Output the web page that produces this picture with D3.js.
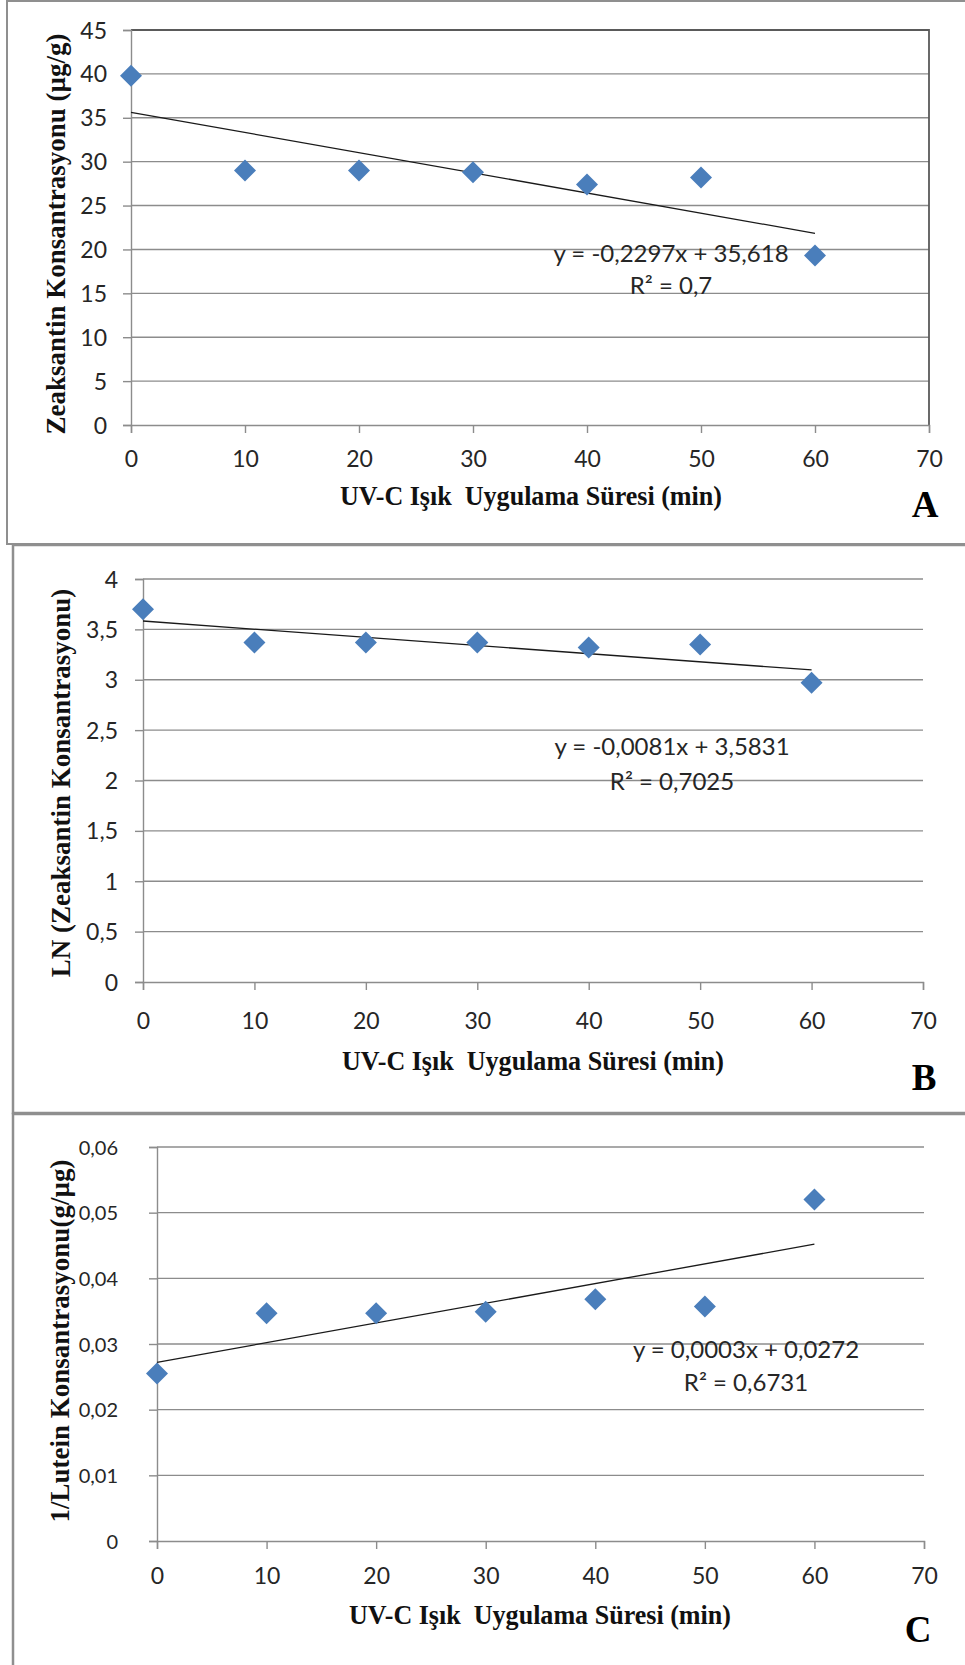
<!DOCTYPE html>
<html>
<head>
<meta charset="utf-8">
<script src="https://cdn.jsdelivr.net/npm/d3@7"></script>
<style>
  body { margin: 0; background: #fff; }
  .tick-label { font-family: Lato, "Open Sans", sans-serif; font-size: 23px; fill: #262626; }
  .eq { font-family: Lato, "Open Sans", sans-serif; font-size: 24px; fill: #262626; }
  .title { font-family: "Liberation Serif", "Times New Roman", serif; font-weight: bold; font-size: 27px; fill: #111; }
  .letter { font-family: "Liberation Serif", "Times New Roman", serif; font-weight: bold; font-size: 37px; fill: #000; }
</style>
</head>
<body>
<div id="container"></div>
<script>
// data
var minutes = [0, 10, 20, 30, 40, 50, 60];
var zeaxanthin = [39.8, 29.0, 29.0, 28.8, 27.4, 28.2, 19.3];
var lnZeaxanthin = [3.70, 3.37, 3.37, 3.37, 3.32, 3.35, 2.97];
var invLutein = [0.0255, 0.0347, 0.0347, 0.0349, 0.0368, 0.0357, 0.052];

var xTicks = [0, 10, 20, 30, 40, 50, 60, 70];
var yTicksA = [0, 5, 10, 15, 20, 25, 30, 35, 40, 45];
var yTicksB = [0, 0.5, 1, 1.5, 2, 2.5, 3, 3.5, 4];
var yTicksC = [0, 0.01, 0.02, 0.03, 0.04, 0.05, 0.06];

var slopes = [-0.2297, -0.0081, 0.0003];
var intercepts = [35.618, 3.5831, 0.0272];
var equations = ["y = -0,2297x + 35,618", "y = -0,0081x + 3,5831", "y = 0,0003x + 0,0272"];
var r2Labels = ["R² = 0,7", "R² = 0,7025", "R² = 0,6731"];

var xTitle = "UV-C Işık  Uygulama Süresi (min)";
var yTitles = ["Zeaksantin Konsantrasyonu (µg/g)", "LN (Zeaksantin Konsantrasyonu)", "1/Lutein Konsantrasyonu(g/µg)"];
var letters = ["A", "B", "C"];

var W = 965, H = 1665;
var trLocale = d3.formatLocale({decimal: ",", thousands: ".", grouping: [3], currency: ["", ""]});
var fmt = function(v) { return trLocale.format("~g")(+v.toFixed(4)); };

// layout of each panel (pixels)
var panels = [
  {values: zeaxanthin, yTicks: yTicksA, yMax: 45, box: [7, 1, 543], plot: {l: 131, r: 929, t: 30, b: 425},
   yPad: 16, yFont: 23,
   yTitleX: 65, yTitleY: 234, eqX: 671, eqY: 254, r2Y: 286, xLabY: 459, xTitleX: 531, xTitleY: 505,
   letterX: 925, letterY: 517, frame: true},
  {values: lnZeaxanthin, yTicks: yTicksB, yMax: 4, box: [13, 545, 568], plot: {l: 143, r: 923, t: 579, b: 982},
   yPad: 17, yFont: 23,
   yTitleX: 70, yTitleY: 783, eqX: 672, eqY: 747, r2Y: 782, xLabY: 1021, xTitleX: 533, xTitleY: 1070,
   letterX: 924, letterY: 1090, frame: false},
  {values: invLutein, yTicks: yTicksC, yMax: 0.06, box: [13, 1114, 600], plot: {l: 157, r: 924, t: 1147, b: 1541},
   yPad: 31, yFont: 20,
   yTitleX: 69, yTitleY: 1341, eqX: 746, eqY: 1350, r2Y: 1383, xLabY: 1576, xTitleX: 540, xTitleY: 1624,
   letterX: 918, letterY: 1642, frame: false}
];

function drawChart() {
  var svg = d3.select("#container").append("svg")
      .attr("width", W)
      .attr("height", H)
      .style("display", "block");

  svg.append("rect").attr("width", W).attr("height", H).attr("fill", "#fff");

  panels.forEach(function(p, i) {
    var g = svg.append("g");

    // outer frame of the panel
    g.append("rect")
      .attr("x", p.box[0]).attr("y", p.box[1])
      .attr("width", W + 20).attr("height", p.box[2])
      .attr("fill", "#fff")
      .attr("stroke", "#8f8f8f")
      .attr("stroke-width", i == 0 ? 2 : 2.5);

    var x = d3.scaleLinear().domain([0, 70]).range([p.plot.l, p.plot.r]);
    var y = d3.scaleLinear().domain([0, p.yMax]).range([p.plot.b, p.plot.t]);

    // horizontal grid
    g.selectAll(".grid").data(p.yTicks.slice(1)).enter().append("line")
      .attr("x1", p.plot.l).attr("x2", p.plot.r)
      .attr("y1", function(d) { return y(d); }).attr("y2", function(d) { return y(d); })
      .attr("stroke", "#8c8c8c").attr("stroke-width", 1.4);

    if (p.frame) {
      g.append("path")
        .attr("d", "M" + p.plot.l + "," + p.plot.t + "H" + p.plot.r + "V" + p.plot.b)
        .attr("fill", "none").attr("stroke", "#5a5a5a").attr("stroke-width", 1.8);
    }

    // y axis
    var yAxis = d3.axisLeft(y).tickValues(p.yTicks).tickSize(8).tickPadding(p.yPad).tickFormat(fmt);
    var ya = g.append("g").attr("transform", "translate(" + p.plot.l + ",0)").call(yAxis);
    ya.select(".domain").attr("stroke", "#8c8c8c").attr("stroke-width", 1.4);
    ya.selectAll(".tick line").attr("stroke", "#8c8c8c").attr("stroke-width", 1.4);
    ya.selectAll(".tick text").attr("class", "tick-label").attr("font-family", null).attr("font-size", null)
      .attr("fill", null).attr("dy", "0.35em").style("font-size", p.yFont + "px");

    // x axis
    var xAxis = d3.axisBottom(x).tickValues(xTicks).tickSize(8).tickFormat(fmt);
    var xa = g.append("g").attr("transform", "translate(0," + p.plot.b + ")").call(xAxis);
    xa.select(".domain").attr("stroke", "#8c8c8c").attr("stroke-width", 1.4);
    xa.selectAll(".tick line").attr("stroke", "#8c8c8c").attr("stroke-width", 1.4);
    xa.selectAll(".tick text").attr("class", "tick-label").attr("font-family", null).attr("font-size", null)
      .attr("fill", null).attr("y", p.xLabY - p.plot.b).attr("dy", "0.35em");

    // trend line
    var line = d3.line().x(function(d) { return x(d); })
      .y(function(d) { return y(slopes[i] * d + intercepts[i]); });
    g.append("path")
      .attr("d", line([minutes[0], minutes[minutes.length - 1]]))
      .attr("fill", "none").attr("stroke", "#1a1a1a").attr("stroke-width", 1.3);

    // points
    g.selectAll(".pt").data(p.values).enter().append("path")
      .attr("class", "pt")
      .attr("d", "M0,-11L11,0L0,11L-11,0Z")
      .attr("transform", function(d, j) { return "translate(" + x(minutes[j]) + "," + y(d) + ")"; })
      .attr("fill", "#4a7ebb");

    // equation and R²
    g.append("text").attr("class", "eq").attr("x", p.eqX).attr("y", p.eqY).attr("dy", "0.35em")
      .attr("text-anchor", "middle").text(equations[i]);
    g.append("text").attr("class", "eq").attr("x", p.eqX).attr("y", p.r2Y).attr("dy", "0.35em")
      .attr("text-anchor", "middle").text(r2Labels[i]);

    // axis titles
    g.append("text").attr("class", "title")
      .attr("x", p.xTitleX).attr("y", p.xTitleY)
      .attr("text-anchor", "middle").attr("xml:space", "preserve")
      .attr("textLength", 382).attr("lengthAdjust", "spacingAndGlyphs")
      .style("white-space", "pre")
      .text(xTitle);
    g.append("text").attr("class", "title")
      .attr("transform", "translate(" + p.yTitleX + "," + p.yTitleY + ") rotate(-90)")
      .attr("text-anchor", "middle")
      .text(yTitles[i]);

    g.append("text").attr("class", "letter")
      .attr("x", p.letterX).attr("y", p.letterY).attr("text-anchor", "middle")
      .text(letters[i]);
  });
}

drawChart();
</script>
</body>
</html>
